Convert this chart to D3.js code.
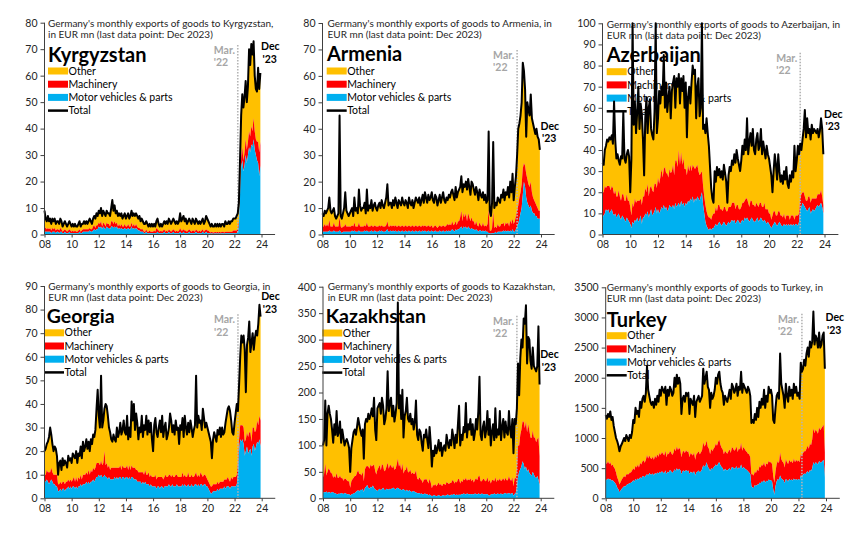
<!DOCTYPE html>
<html><head><meta charset="utf-8">
<script src="https://cdn.jsdelivr.net/npm/d3@7"></script>
<style>
body{margin:0;background:#fff}
svg{display:block}
text{font-family:Lato,"Open Sans",sans-serif}
</style></head>
<body><svg id="chart" width="868" height="538"></svg>
<script>
// ---------------- DATA (monthly, Jan 2008 – Dec 2023, EUR mn) ----------------
const seriesNames = ["Other", "Machinery", "Motor vehicles & parts", "Total"];
const xTickYears = [2008, 2010, 2012, 2014, 2016, 2018, 2020, 2022, 2024];

const kgTicks = [0,10,20,30,40,50,60,70,80];
const amTicks = [0,10,20,30,40,50,60,70,80];
const azTicks = [0,10,20,30,40,50,60,70,80,90,100];
const geTicks = [0,10,20,30,40,50,60,70,80,90];
const kzTicks = [0,50,100,150,200,250,300,350,400];
const trTicks = [0,500,1000,1500,2000,2500,3000,3500];

// Kyrgyzstan
const kgTotal = [
9,6,5,7,5,6,4,6,5,6,4,5,
5,4,6,5,3,4,5,4,3,4,5,4,
3,4,3,4,3,3,4,5,3,4,4,5,
4,5,4,5,6,5,4,6,7,6,8,7,
9,8,10,7,9,8,7,9,8,8,7,10,
13,9,11,8,9,7,8,7,8,6,7,8,
6,7,8,6,7,9,7,8,7,8,7,6,
7,5,6,5,4,4,5,4,3,4,3,4,
3,4,3,5,6,4,3,4,3,4,5,4,
5,4,6,5,4,5,6,5,4,5,4,5,
8,5,6,7,5,6,4,5,6,5,4,6,
5,4,6,5,4,5,4,5,6,4,5,7,
6,5,4,3,4,3,3,4,3,4,3,4,
3,4,4,3,5,4,4,5,4,5,5,6,
6,6,7,8,12,28,45,53,48,52,58,50,
56,70,64,72,68,73,60,55,54,63,55,61];
const kgMotor = [
1,1,1,1,1,1,0.5,1,1,1,0.5,1,
1,0.5,1,1,0.5,0.5,1,0.5,0.5,0.5,1,0.5,
0.5,0.5,0.5,0.5,0.5,0.5,0.5,1,0.5,0.5,1,1,
1,1,1,1,1.5,1,1,1.5,2,1.5,2,2,
3,2.5,3,2,3,2.5,2,3,2.5,2.5,2,3,
3,2.5,3,2.5,3,2,2.5,2,2.5,2,2,2.5,
2,2,2.5,2,2,3,2,2.5,2,2.5,2,1.5,
1.5,1,1,1,0.5,0.5,1,0.5,0.5,0.5,0.5,0.5,
0.5,0.5,0.5,0.5,1,0.5,0.5,0.5,0.5,0.5,1,0.5,
0.5,0.5,1,0.5,0.5,0.5,1,0.5,0.5,0.5,0.5,0.5,
1,0.5,0.5,1,0.5,0.5,0.5,0.5,1,0.5,0.5,0.5,
0.5,0.5,1,0.5,0.5,0.5,0.5,0.5,1,0.5,0.5,1,
0.5,0.5,0.5,0.3,0.5,0.3,0.3,0.5,0.3,0.5,0.3,0.5,
0.3,0.5,0.5,0.3,0.5,0.5,0.5,0.5,0.5,0.5,0.5,0.5,
0.5,0.5,0.5,1,3,15,25,28,24,26,30,27,
30,33,31,34,33,36,32,30,28,27,22,26];
const kgMach = [
2,1.5,1,1.5,1,1.5,1,1.5,1,1.5,1,1,
1,1,1.5,1,0.5,1,1,1,0.5,1,1,1,
0.5,1,0.5,1,0.5,0.5,1,1,0.5,1,1,1,
1,1,1,1,1,1,1,1.5,1.5,1,1.5,1.5,
1.5,1.5,2,1,1.5,1.5,1,1.5,1.5,1.5,1,2,
2,1.5,2,1.5,1.5,1,1.5,1,1.5,1,1,1.5,
1,1,1.5,1,1,1.5,1,1.5,1,1.5,1,1,
1,1,1,1,0.5,0.5,1,0.5,0.5,1,0.5,0.5,
0.5,1,0.5,2,1,1,0.5,1,0.5,1,1,0.5,
1,0.5,1,1,0.5,1,1,1,0.5,1,0.5,1,
1.5,1,1,1,1,1,0.5,1,1,1,0.5,1,
1,0.5,1,1,0.5,1,0.5,1,1,0.5,1,1,
1,1,0.5,0.5,0.5,0.5,0.5,0.5,0.5,0.5,0.5,0.5,
0.5,0.5,0.5,0.5,0.5,0.5,0.5,0.5,0.5,0.5,0.5,1,
1,1,1,1,2,3,4,5,4,5,6,5,
5,6,6,7,6,8,7,6,7,8,9,9];

// Armenia
const amTotal = [
8,7,9,8,9,10,14,9,8,9,10,7,
6,7,8,45,7,6,8,10,16,9,8,7,
8,9,10,7,14,9,10,8,17,11,9,10,
10,12,8,17,9,11,10,13,9,11,12,10,
9,11,12,10,13,11,10,12,14,19,11,12,
12,10,13,11,14,12,10,13,12,11,14,12,
11,13,12,10,14,12,11,13,10,12,14,13,
12,14,11,13,15,12,16,14,12,15,13,14,
16,13,12,15,14,11,13,15,12,14,16,13,
12,14,13,15,14,16,17,15,13,18,14,16,
17,18,22,16,19,18,20,17,21,18,15,20,
19,17,15,18,16,13,17,15,14,16,13,15,
12,13,39,9,7,12,35,10,12,11,14,13,
12,15,14,17,13,16,15,18,14,20,16,23,
13,18,22,30,40,42,45,50,65,62,55,37,
50,47,45,53,44,42,40,38,40,37,36,32];
const amMotor = [
1,1,1,1,1,1,1.5,1,1,1,1.5,1,
1,1,1,1.5,1,0.5,1,1,1,1,1,1,
1,1,1.5,1,1.5,1,1,1,1.5,1,1,1,
1,1.5,1,1.5,1,1,1,1.5,1,1,1.5,1,
1,1,1.5,1,1.5,1,1,1,1.5,2,1,1,
1.5,1,1.5,1,1.5,1,1,1.5,1,1,1.5,1,
1,1.5,1,1,1.5,1,1,1.5,1,1,1.5,1,
1,1.5,1,1,1.5,1,1.5,1,1,1.5,1,1,
1.5,1,1,1.5,1,1,1,1.5,1,1,1.5,1,
1,1.5,1,1.5,1,1.5,2,1.5,1,2,1.5,2,
2,2.5,3,2,3,2.5,3,2,3,2.5,2,2.5,
2,2,1.5,2,1.5,1,1.5,1.5,1,1.5,1,1.5,
1,1,0.5,0.5,0.3,0.5,0.5,0.5,1,0.5,1,1,
1,1,1,1.5,1,1.5,1,1.5,1,1.5,1,2,
1,1,2,3,4,6,8,10,15,20,18,14,
12,11,10,11,9,8,8,7,7,6,6,6];
const amMach = [
2,2,3,2,3,2,4,2,2,2,3,2,
2,2,2,5,2,2,2,2,3,2,2,2,
2,2,2,2,3,2,2,2,3,2,2,2,
2,2,2,3,2,2,2,2,2,2,2,2,
2,2,2,2,2,2,2,2,2,3,2,2,
2,2,2,2,2,2,2,2,2,2,2,2,
2,2,2,2,2,2,2,2,2,2,2,2,
2,2,2,2,2,2,2,2,2,2,2,2,
2,1.5,2,2,2,1.5,2,2,2,2,2,2,
2,2,3,2,3,2,3,2,3,3,2,3,
3,4,6,3,5,4,5,3,5,4,3,4,
3,3,2,3,2,2,3,2,2,3,2,2,
2,3,9,1,1,2,8,2,2,2,3,2,
2,3,3,3,2,3,3,3,2,4,3,4,
3,4,5,6,7,8,8,9,10,7,8,9,
9,8,8,9,7,6,5,5,4,4,3,3];

// Azerbaijan
const azTotal = [
34,33,40,42,45,44,46,45,47,43,63,45,
36,38,35,33,37,36,58,36,34,38,40,37,
20,36,100,52,63,48,58,70,50,62,57,45,
28,55,65,48,60,64,50,47,45,58,100,48,
55,68,62,70,66,85,60,72,58,65,70,55,
68,72,75,60,74,70,76,62,74,68,75,60,
72,46,65,70,62,72,80,76,78,55,70,74,
56,60,100,50,52,48,55,48,42,32,22,17,
15,30,25,32,28,31,27,30,26,33,29,25,
15,28,32,30,35,33,38,34,40,36,33,30,
35,42,38,45,40,55,38,44,48,42,50,40,
38,45,48,40,42,50,38,44,40,36,42,38,
36,32,28,20,30,38,33,26,38,30,25,28,
24,30,26,32,24,22,28,25,30,27,42,30,
35,42,38,43,40,45,50,59,46,55,48,50,
45,52,48,50,49,48,50,46,49,55,50,38];
const azMotor = [
8,9,10,12,11,12,10,11,12,10,9,10,
8,9,10,8,7,9,8,7,6,8,7,6,
5,3,6,5,7,6,8,6,7,9,5,8,
8,10,9,11,8,10,12,9,10,11,13,10,
12,10,11,13,12,14,12,13,11,12,14,13,
13,14,12,15,13,14,15,13,16,14,15,13,
15,14,16,15,17,16,18,15,17,16,18,17,
16,18,20,14,10,6,4,3,2,3,2,3,
3,4,5,4,5,6,5,4,5,6,5,4,
5,6,5,6,7,6,7,5,6,7,6,5,
6,7,6,8,7,8,7,6,7,8,7,6,
6,7,8,6,7,8,7,6,7,6,5,6,
5,4,3,4,5,6,5,4,5,6,5,4,
4,5,4,5,4,5,4,5,4,5,4,5,
5,4,6,12,13,15,14,13,12,11,12,13,
10,11,12,11,12,13,14,13,14,15,13,10];
const azMach = [
12,11,13,10,12,11,13,10,11,12,10,11,
10,9,11,10,9,10,11,9,10,11,9,10,
8,6,9,8,10,9,8,10,9,8,9,10,
10,12,11,13,10,12,11,12,10,13,11,12,
15,14,16,18,15,17,20,16,18,15,17,16,
17,19,16,20,22,18,25,20,23,19,21,18,
16,14,17,15,16,14,15,17,14,16,15,13,
12,11,10,9,8,8,7,6,6,5,5,6,
7,6,8,7,9,8,7,8,6,7,8,7,
6,7,8,7,8,9,8,7,8,7,6,7,
7,8,9,8,10,9,8,7,9,8,7,8,
7,8,6,7,8,7,6,7,8,6,7,6,
5,6,4,5,6,5,4,5,6,5,4,5,
4,5,3,4,5,4,3,4,5,4,3,4,
4,5,4,5,6,5,6,5,4,5,6,5,
5,6,5,6,5,4,5,6,5,6,5,4];

// Georgia
const geTotal = [
20,21,23,24,26,30,27,23,20,22,21,18,
10,15,16,12,17,14,16,15,13,18,16,17,
15,19,18,17,20,15,19,18,22,17,24,20,
22,25,21,24,20,25,23,27,26,29,38,46,
35,30,52,30,33,38,40,39,35,30,28,25,
24,27,25,24,30,26,28,32,27,29,33,28,
27,35,25,30,26,41,33,40,29,36,32,25,
30,28,35,26,31,29,35,27,33,28,32,25,
20,31,34,28,26,30,33,28,35,26,30,32,
25,27,30,36,33,28,31,27,33,29,30,23,
31,29,34,26,35,30,27,32,28,33,30,26,
29,31,52,30,35,32,33,29,38,34,30,32,
30,28,26,24,17,25,28,26,24,29,27,30,
26,30,27,28,32,35,38,39,37,33,28,27,
32,36,40,37,48,60,69,66,69,63,45,65,
68,75,62,66,70,63,68,71,69,74,82,77];
const geMotor = [
7,7,8,7,6,7,8,7,6,6,5,5,
3,3,4,3,4,4,3,4,4,5,4,5,
4,5,5,4,5,4,5,5,6,5,6,6,
6,7,6,7,6,7,7,8,7,8,9,9,
10,9,10,9,9,10,9,9,8,9,8,8,
8,8,9,8,9,8,9,9,8,9,9,8,
9,9,8,9,8,9,9,8,8,8,7,7,
7,7,6,7,6,7,6,6,6,5,6,5,
5,5,5,4,5,5,4,5,5,4,5,5,
5,5,6,5,5,6,5,5,5,6,5,5,
5,5,6,5,6,5,5,6,5,5,6,5,
5,6,6,5,6,5,6,6,5,6,6,5,
5,4,3,2,2,3,3,3,3,4,3,4,
4,4,4,5,4,5,5,5,4,5,5,5,
5,5,6,10,20,25,24,25,23,18,20,22,
19,20,21,18,22,23,20,22,24,23,25,22];
const geMach = [
3,3,4,4,5,4,5,4,4,4,5,5,
3,3,3,3,3,3,3,3,3,3,3,3,
3,3,4,3,4,3,4,3,4,3,4,4,
4,4,4,5,4,5,4,5,5,5,6,6,
5,5,6,5,6,10,5,6,5,5,4,5,
5,5,4,5,4,5,4,5,4,5,4,5,
4,5,4,5,4,5,4,5,5,4,5,4,
4,4,5,4,4,5,4,4,5,4,4,4,
4,4,5,4,4,4,5,4,4,4,4,5,
4,4,4,5,4,4,4,4,5,4,4,4,
4,4,5,4,4,4,4,5,4,4,4,4,
4,4,5,4,4,4,5,4,4,4,4,4,
3,3,3,3,3,3,3,3,3,3,3,3,
3,3,3,3,4,3,4,3,3,4,3,4,
4,4,4,5,5,6,7,6,7,6,5,6,
7,8,7,6,8,7,8,7,9,8,10,11];

// Kazakhstan
const kzTotal = [
100,110,185,100,160,175,160,150,130,105,140,120,
165,118,125,145,105,130,115,100,108,112,105,95,
50,95,110,125,130,120,135,152,140,128,118,130,
75,140,150,145,160,150,158,170,155,190,130,110,
170,175,180,160,190,175,140,150,170,240,165,180,
190,155,175,145,160,180,370,170,195,150,205,115,
155,165,190,150,145,160,140,150,130,145,185,120,
110,130,125,105,90,120,115,130,110,95,135,105,
60,90,80,100,85,95,110,90,105,80,95,100,
90,120,105,95,110,100,130,115,95,120,105,140,
175,100,120,110,135,125,180,115,140,130,150,120,
140,110,125,150,130,165,230,120,110,135,145,115,
130,165,120,150,100,125,140,110,170,115,130,120,
165,110,135,150,115,145,125,120,165,130,115,150,
85,150,140,170,255,195,265,300,285,340,330,365,
255,305,300,260,245,285,250,245,240,250,325,215];
const kzMotor = [
10,12,11,13,10,12,11,10,12,11,10,9,
8,7,9,8,10,9,8,10,9,8,7,8,
5,7,8,9,10,12,14,15,13,16,15,18,
12,20,22,25,20,18,22,20,24,19,17,15,
14,16,18,15,17,20,16,15,18,17,16,18,
17,19,20,18,16,19,20,18,17,15,16,17,
15,14,16,13,15,14,12,13,14,12,11,10,
9,10,8,9,7,8,9,7,8,6,7,6,
4,5,6,5,4,5,6,5,4,5,6,5,
5,6,7,6,5,7,6,8,7,6,7,6,
7,6,8,7,9,8,7,9,8,7,8,7,
8,7,9,8,7,9,8,7,9,8,7,8,
7,8,6,5,7,8,7,9,8,7,9,8,
8,9,7,8,9,10,8,9,10,8,9,10,
5,8,10,20,40,50,55,60,70,65,55,60,
50,55,48,45,42,50,45,40,38,42,35,25];
const kzMach = [
30,35,55,30,40,45,42,38,35,28,32,30,
40,32,30,35,28,30,25,27,28,26,25,24,
15,25,28,30,32,30,35,38,33,30,28,32,
20,35,38,36,40,38,42,40,38,45,35,30,
40,42,45,38,48,42,35,38,42,50,40,45,
45,38,42,36,40,45,55,42,48,38,50,30,
38,40,45,36,35,40,34,36,32,35,42,28,
26,30,28,25,22,28,26,30,25,22,30,24,
15,20,18,22,19,21,24,20,23,18,21,22,
20,25,22,21,24,22,28,25,21,26,23,30,
30,22,25,24,28,26,32,24,28,27,30,25,
28,23,26,30,27,32,35,25,23,28,30,24,
26,32,25,30,21,26,28,23,32,24,27,25,
30,23,28,30,24,29,26,25,32,27,24,30,
18,30,28,35,60,50,65,70,75,80,78,85,
75,85,80,70,72,78,70,75,68,70,80,55];

// Turkey
const trTotal = [
1380,1320,1400,1350,1440,1300,1350,1200,1100,1000,950,880,
780,860,900,950,1000,950,1050,1000,950,1050,1000,1100,
1300,1250,1500,1400,1450,1350,1600,1500,1650,1700,1600,1750,
2200,1800,1700,1600,1550,1600,1500,1650,1550,1700,1600,1800,
1700,1850,1800,1750,1850,1550,1800,1700,1850,1800,1700,1750,
2000,1850,2050,1900,2000,1900,1400,1650,1700,1600,1750,1700,
1750,1400,1650,1600,1550,1700,1350,1600,1650,1700,1600,1650,
1700,2150,1900,2000,2100,1850,1800,1500,1750,1650,1700,1800,
2000,1900,2050,2100,1900,1800,1750,1550,1700,1650,1600,1700,
1800,1650,1900,1850,1750,1800,1900,1700,1850,1800,2100,1750,
1900,1850,1800,1750,1850,1800,1700,1250,1300,1250,1400,1300,
1500,1350,1600,1500,1650,1550,1800,1500,1700,1600,1850,1750,
1800,1700,1300,1250,1500,1700,1750,1650,2400,1900,1800,1700,
1500,1900,1700,1600,1850,1700,1800,1650,1900,1750,1850,1700,
1750,1650,2250,2100,2150,2300,2200,2400,2500,2350,2600,2500,
2600,3100,2550,2700,2650,2500,2750,2500,2550,2700,2750,2150];
const trMotor = [
320,300,330,310,320,290,300,280,260,230,180,150,
100,130,160,180,200,190,220,230,240,250,260,270,
300,280,320,300,330,310,350,330,360,370,350,380,
400,380,420,400,390,410,380,420,400,430,410,440,
420,450,430,410,460,400,440,430,470,450,420,440,
480,450,500,460,490,470,400,450,460,440,470,450,
460,400,440,430,420,450,380,430,440,460,430,450,
480,550,520,540,600,520,500,450,500,480,510,530,
560,530,580,600,550,520,500,450,490,470,460,480,
500,460,520,510,490,500,530,480,510,500,560,490,
520,500,480,470,450,430,400,200,180,170,220,200,
230,220,260,250,280,270,300,260,290,280,310,300,
300,280,150,60,200,280,320,300,380,330,310,300,
250,320,300,280,320,300,310,290,330,300,320,300,
320,300,380,370,390,410,400,430,450,420,470,450,
500,600,560,600,580,560,620,590,600,620,640,350];
const trMach = [
280,270,290,260,280,250,260,240,230,200,170,150,
130,140,150,160,170,160,180,170,160,180,170,190,
200,190,220,210,230,200,240,230,250,260,240,260,
320,280,290,270,260,280,260,290,270,300,280,310,
300,320,310,300,330,280,310,300,320,310,300,310,
350,330,360,340,350,340,280,320,330,310,330,320,
320,280,310,300,290,310,260,300,310,320,300,310,
320,380,340,350,360,330,320,280,320,300,310,320,
350,340,360,370,340,320,310,280,300,290,280,300,
310,290,330,320,300,310,330,290,320,310,360,300,
330,320,310,300,290,300,280,200,220,210,230,220,
250,230,270,260,280,270,300,260,290,280,310,300,
300,290,220,200,250,290,300,280,380,320,300,290,
260,330,300,290,320,300,310,290,330,300,320,310,
310,300,350,340,360,370,380,390,420,400,440,430,
480,560,520,540,530,510,560,540,560,570,580,420];

// ---------------- LAYOUT (positions & text) ----------------
const colors = {other:"#FFC000", mach:"#FF0000", motor:"#00B0F0", total:"#000000"};
const panels = [
 {name:"Kyrgyzstan", t1:"Germany's monthly exports of goods to Kyrgyzstan,", t2:"in EUR mn (last data point: Dec 2023)",
  total:kgTotal, motor:kgMotor, mach:kgMach, ticks:kgTicks,
  L:44.5, R:261.5, B:234.5, T:22.7, tx:48, ty:27, nx:48, ny:61.7, nfs:20, lx:48, ly:71, marTop:71.6, decY:71},
 {name:"Armenia", t1:"Germany's monthly exports of goods to Armenia, in", t2:"EUR mn (last data point: Dec 2023)",
  total:amTotal, motor:amMotor, mach:amMach, ticks:amTicks,
  L:322.5, R:541, B:234.5, T:23, tx:327.5, ty:27, nx:327, ny:61, nfs:20, lx:326.7, ly:71, marTop:69.8, decY:41},
 {name:"Azerbaijan", t1:"Germany's monthly exports of goods to Azerbaijan, in", t2:"EUR mn (last data point: Dec 2023)",
  total:azTotal, motor:azMotor, mach:azMach, ticks:azTicks,
  L:602.5, R:824.5, B:234.5, T:23.3, tx:606.7, ty:27.5, nx:606.7, ny:61.7, nfs:20, lx:606.7, ly:71.7, marTop:86, decY:57},
 {name:"Georgia", t1:"Germany's monthly exports of goods to Georgia, in", t2:"EUR mn (last data point: Dec 2023)",
  total:geTotal, motor:geMotor, mach:geMach, ticks:geTicks,
  L:44.5, R:261.7, B:498.3, T:286, tx:48.3, ty:289.5, nx:46.7, ny:322.5, nfs:19.5, lx:44, ly:332.8, marTop:78, decY:85.5},
 {name:"Kazakhstan", t1:"Germany's monthly exports of goods to Kazakhstan,", t2:"in EUR mn (last data point: Dec 2023)",
  total:kzTotal, motor:kzMotor, mach:kzMach, ticks:kzTicks,
  L:323, R:540.7, B:498.3, T:286.7, tx:327.7, ty:289.5, nx:325.7, ny:322.5, nfs:19.5, lx:322.3, ly:333, marTop:345, decY:271},
 {name:"Turkey", t1:"Germany's monthly exports of goods to Turkey, in", t2:"EUR mn (last data point: Dec 2023)",
  total:trTotal, motor:trMotor, mach:trMach, ticks:trTicks,
  L:605.7, R:826, B:498.3, T:287.3, tx:606.7, ty:291, nx:606.7, ny:326.7, nfs:20, lx:606.7, ly:335.7, marTop:3063, decY:2997}
];
const marchLine = 2022.25;

const svg = d3.select("#chart");

function drawPanel(p){
  const g = svg.append("g");
  const yMax = p.ticks[p.ticks.length-1];
  const x = d3.scaleLinear().domain([2008, 2024]).range([p.L, p.R]);
  const y = d3.scaleLinear().domain([0, yMax]).range([p.B, p.T]);

  // titles
  g.append("text").attr("x", p.tx).attr("y", p.ty).attr("font-size", 10).attr("fill", "#262626").text(p.t1);
  g.append("text").attr("x", p.tx).attr("y", p.ty + 11).attr("font-size", 10).attr("fill", "#262626").text(p.t2);
  g.append("text").attr("x", p.nx).attr("y", p.ny).attr("font-size", p.nfs).attr("font-weight", 700).attr("fill", "#000").text(p.name);

  // legend
  const leg = [
    {k:"other", label:seriesNames[0]},
    {k:"mach", label:seriesNames[1]},
    {k:"motor", label:seriesNames[2]},
    {k:"total", label:seriesNames[3]}];
  leg.forEach((d, i) => {
    const cy = p.ly + i * 13.2;
    if (d.k === "total") {
      g.append("line").attr("x1", p.lx).attr("x2", p.lx + 20).attr("y1", cy).attr("y2", cy)
        .attr("stroke", "#000").attr("stroke-width", 2.5);
    } else {
      g.append("rect").attr("x", p.lx).attr("y", cy - 3.5).attr("width", 20).attr("height", 7).attr("fill", colors[d.k]);
    }
    g.append("text").attr("x", p.lx + 20.5).attr("y", cy + 3.6).attr("font-size", 10.5).attr("fill", "#000").text(d.label);
  });

  // data rows
  const rows = p.total.map((t, i) => ({
    t: 2008 + i / 12,
    motor: p.motor[i],
    mach: p.motor[i] + p.mach[i],
    total: t
  }));

  const aMotor = d3.area().x(d => x(d.t)).y0(y(0)).y1(d => y(d.motor));
  const aMach = d3.area().x(d => x(d.t)).y0(d => y(d.motor)).y1(d => y(d.mach));
  const aOther = d3.area().x(d => x(d.t)).y0(d => y(d.mach)).y1(d => y(d.total));
  g.append("path").datum(rows).attr("d", aOther).attr("fill", colors.other);
  g.append("path").datum(rows).attr("d", aMach).attr("fill", colors.mach);
  g.append("path").datum(rows).attr("d", aMotor).attr("fill", colors.motor);

  // March '22 marker
  const mx = x(marchLine);
  g.append("line").attr("x1", mx).attr("x2", mx).attr("y1", y(p.marTop)).attr("y2", y(0))
    .attr("stroke", "#b4b4b4").attr("stroke-width", 1.6).attr("stroke-dasharray", "1.5,1.5");
  g.append("text").attr("x", mx - 24).attr("y", y(p.marTop) + 9).attr("font-size", 10.5).attr("font-weight", 700)
    .attr("fill", "#a6a6a6").text("Mar.");
  g.append("text").attr("x", mx - 24).attr("y", y(p.marTop) + 21.5).attr("font-size", 10.5).attr("font-weight", 700)
    .attr("fill", "#a6a6a6").text("'22");

  // total line
  const ln = d3.line().x(d => x(d.t)).y(d => y(d.total));
  g.append("path").datum(rows).attr("d", ln).attr("fill", "none").attr("stroke", colors.total)
    .attr("stroke-width", 2).attr("stroke-linejoin", "round");

  // Dec '23 label
  const dx = x(2024) - 0.5;
  g.append("text").attr("x", dx).attr("y", y(p.decY) + 3.5).attr("font-size", 10.5).attr("font-weight", 700).text("Dec");
  g.append("text").attr("x", dx + 1.5).attr("y", y(p.decY) + 16).attr("font-size", 10.5).attr("font-weight", 700).text("'23");

  // axes
  const yAx = g.append("g").attr("transform", `translate(${p.L},0)`)
    .call(d3.axisLeft(y).tickValues(p.ticks).tickSize(4).tickPadding(3).tickFormat(d3.format("d")));
  yAx.select(".domain").remove();
  yAx.selectAll("line").attr("stroke", "#404040");
  yAx.selectAll("text").attr("font-size", 10.5).attr("fill", "#262626").attr("font-family", "Lato");
  g.append("line").attr("x1", p.L).attr("x2", p.L).attr("y1", y(yMax)).attr("y2", y(0)).attr("stroke", "#404040");

  const xAx = g.append("g").attr("transform", `translate(0,${p.B})`)
    .call(d3.axisBottom(x).tickValues(xTickYears).tickSize(3).tickPadding(3).tickFormat(d => String(d).slice(2)));
  xAx.select(".domain").remove();
  xAx.selectAll("line").attr("stroke", "#404040");
  xAx.selectAll("text").attr("font-size", 10.5).attr("fill", "#262626").attr("font-family", "Lato");
  g.append("line").attr("x1", p.L).attr("x2", x(2025)).attr("y1", p.B).attr("y2", p.B).attr("stroke", "#404040");
}
panels.forEach(drawPanel);
</script>
</body></html>
